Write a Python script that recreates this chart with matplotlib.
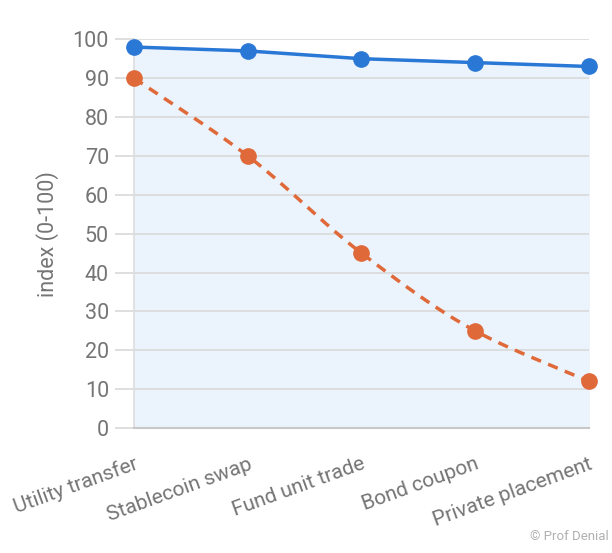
import numpy as np
import matplotlib
matplotlib.use("Agg")
import matplotlib.pyplot as plt

categories = ["Utility transfer", "Stablecoin swap", "Fund unit trade", "Bond coupon", "Private placement"]
blue_vals = [98, 97, 95, 94, 93]
orange_vals = [90, 70, 45, 25, 12]
yticks = [0, 10, 20, 30, 40, 50, 60, 70, 80, 90, 100]

plt.rcParams['font.family'] = ['Roboto', 'DejaVu Sans']

def monotone(xs, ys, n=40):
    xs = np.asarray(xs, float); ys = np.asarray(ys, float)
    h = np.diff(xs); d = np.diff(ys) / h
    m = np.zeros_like(ys)
    m[0] = d[0]; m[-1] = d[-1]
    for i in range(1, len(xs) - 1):
        if d[i-1] * d[i] <= 0:
            m[i] = 0
        else:
            m[i] = 3 * (h[i-1] + h[i]) / ((2*h[i] + h[i-1]) / d[i-1] + (h[i] + 2*h[i-1]) / d[i])
    outx, outy = [], []
    for i in range(len(xs) - 1):
        t = np.linspace(0, 1, n)
        h00 = 2*t**3 - 3*t**2 + 1; h10 = t**3 - 2*t**2 + t
        h01 = -2*t**3 + 3*t**2; h11 = t**3 - t**2
        y = h00*ys[i] + h10*h[i]*m[i] + h01*ys[i+1] + h11*h[i]*m[i+1]
        outx.extend(xs[i] + t*h[i]); outy.extend(y)
    return np.array(outx), np.array(outy)

fig = plt.figure(figsize=(6.12, 5.53), dpi=100)
ax = fig.add_axes([0.219, 0.226, 0.743, 0.703])
x = np.arange(len(categories))
gray = '#757575'

ax.fill_between(x, blue_vals, 0, color='#ebf3fc', zorder=1)
ax.plot(x, blue_vals, color='#2a78d6', lw=2.5, marker='o', ms=11, zorder=4, clip_on=False)
sx, sy = monotone(x, orange_vals)
ax.plot(sx, sy, color='#e0693a', lw=2.5, ls=(0, (3, 2.2)), zorder=3, clip_on=False)
ax.plot(x, orange_vals, ls='none', color='#e0693a', marker='o', ms=11, zorder=4, clip_on=False)

ax.set_xlim(0, len(categories) - 1)
ax.set_ylim(0, 100)
ax.set_yticks(yticks)
ax.set_xticks(x)
ax.set_xticklabels(categories, rotation=20, ha='right', va='top', rotation_mode='anchor')
ax.grid(axis='y', color='#d9d9d9', lw=1.2, zorder=0)
ax.grid(axis='x', visible=False)
for s in ['top', 'right']:
    ax.spines[s].set_visible(False)
ax.spines['left'].set_color('#dddddd')
ax.spines['left'].set_linewidth(1.2)
ax.spines['bottom'].set_color('#c8c8c8')
ax.spines['bottom'].set_linewidth(1.5)
ax.tick_params(axis='y', length=14, color='#d9d9d9', width=1.2, labelsize=15.5, labelcolor=gray, pad=4)
ax.tick_params(axis='x', length=0, labelsize=15, labelcolor=gray, pad=19)
ax.set_ylabel('index (0-100)', fontsize=15.5, color=gray, labelpad=10)

fig.text(0.995, 0.018, '© Prof Denial', ha='right', va='bottom', fontsize=9.5, color='#b0b0b0')

fig.savefig('out.png', dpi=100)
